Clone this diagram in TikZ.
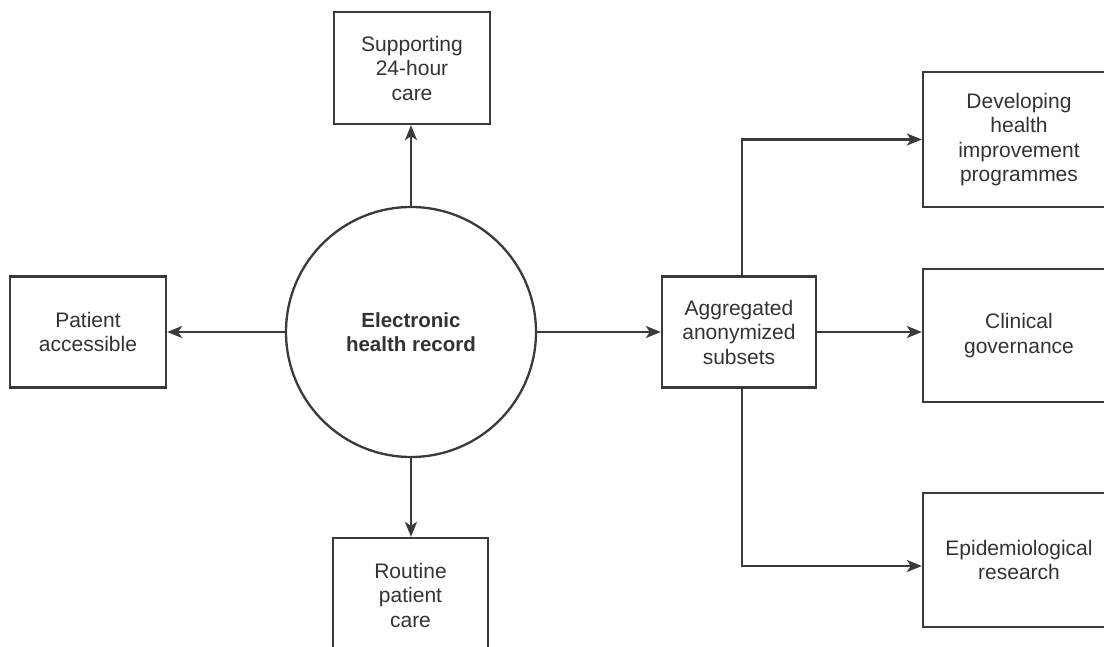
\documentclass[tikz,border=0pt]{standalone}
\usepackage{fontspec}
\setmainfont{Liberation Sans}
\usetikzlibrary{arrows.meta}
\definecolor{ink}{HTML}{3A3A3A}
\definecolor{txt}{HTML}{333333}
\begin{document}
\begin{tikzpicture}[x=1pt,y=1pt,
  box/.style={draw=ink, line width=2.3pt, inner sep=0pt, align=center, text=txt,
    font=\fontsize{21}{24.5}\selectfont},
  conn/.style={draw=ink, line width=2.3pt, -{Stealth[length=15pt,width=12pt,inset=4pt]}}]
\useasboundingbox (0,0) rectangle (1104,646);
\fill[white] (0,0) rectangle (1104,646);
\clip (0,0) rectangle (1104,646);
% central circle
\node[box, circle, minimum size=250pt, font=\bfseries\fontsize{20.5}{24.5}\selectfont] (ehr) at (411,314) {Electronic\\health record};
% boxes
\node[box, minimum width=156pt, minimum height=112pt] (top) at (412,578) {Supporting\\24-hour\\care};
\node[box, minimum width=155pt, minimum height=114pt] (bot) at (410.5,51) {Routine\\patient\\care};
\node[box, minimum width=156pt, minimum height=111pt] (left) at (88,314) {Patient\\accessible};
\node[box, minimum width=154pt, minimum height=111pt] (mid) at (739,314) {Aggregated\\anonymized\\subsets};
\node[box, minimum width=192pt, minimum height=135pt] (dev) at (1019,506.5) {Developing\\health\\improvement\\programmes};
\node[box, minimum width=192pt, minimum height=133pt] (clin) at (1019,310.5) {Clinical\\governance};
\node[box, minimum width=192pt, minimum height=134pt] (epi) at (1019,86) {Epidemiological\\research};
% connectors
\draw[conn] (ehr.north) -- (ehr.north |- top.south);
\draw[conn] (ehr.south) -- (ehr.south |- bot.north);
\draw[conn] (ehr.west) -- (left.east);
\draw[conn] (ehr.east) -- (mid.west);
\draw[conn] (mid.east) -- (mid.east -| clin.west);
\draw[conn] ([xshift=3pt]mid.north) |- (dev.west);
\draw[conn] ([xshift=3pt]mid.south) |- ([yshift=-6pt]epi.west);
\end{tikzpicture}
\end{document}
